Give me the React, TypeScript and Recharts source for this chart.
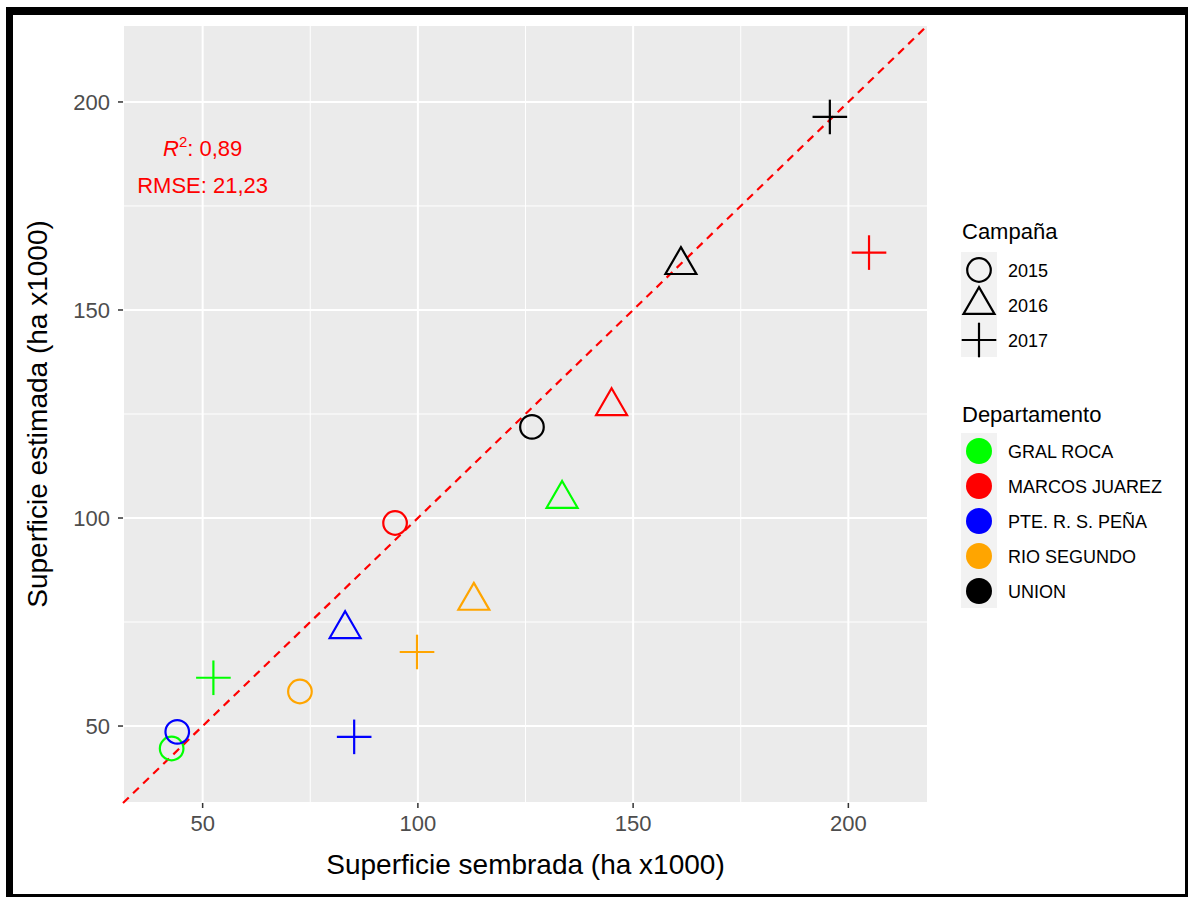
import React from 'react';
import { ScatterChart, Scatter, XAxis, YAxis, CartesianGrid, ReferenceLine, ReferenceDot } from 'recharts';

// campañas (shape) and departamentos (colour)
const campanas = ['2015', '2016', '2017'];
const departamentos = ['GRAL ROCA', 'MARCOS JUAREZ', 'PTE. R. S. PEÑA', 'RIO SEGUNDO', 'UNION'];
const colores = ['#00FF00', '#FF0000', '#0000FF', '#FFA500', '#000000'];

// superficie sembrada (ha x1000) per campaña 2015, 2016, 2017
const sembradaGralRoca = [42.8, 133.5, 52.5];
const sembradaMarcosJuarez = [94.7, 145.0, 204.8];
const sembradaPteSaenzPena = [44.1, 83.1, 85.2];
const sembradaRioSegundo = [72.6, 113.0, 99.8];
const sembradaUnion = [126.5, 161.1, 195.7];

// superficie estimada (ha x1000) per campaña 2015, 2016, 2017
const estimadaGralRoca = [44.6, 104.6, 61.6];
const estimadaMarcosJuarez = [98.8, 126.9, 163.8];
const estimadaPteSaenzPena = [48.6, 73.3, 47.4];
const estimadaRioSegundo = [58.3, 80.1, 67.8];
const estimadaUnion = [121.9, 160.8, 196.4];

const sembrada = [sembradaGralRoca, sembradaMarcosJuarez, sembradaPteSaenzPena, sembradaRioSegundo, sembradaUnion];
const estimada = [estimadaGralRoca, estimadaMarcosJuarez, estimadaPteSaenzPena, estimadaRioSegundo, estimadaUnion];

const majorTicks = [50, 100, 150, 200];
const minorTicks = [75, 125, 175];
const domain: [number, number] = [31.5, 218.5];

const FONT = '"Liberation Sans", Arial, Helvetica, sans-serif';

function Marker({ cx, cy, color, shape }: { cx: number; cy: number; color: string; shape: number }) {
  if (shape === 0) {
    return <circle cx={cx} cy={cy} r={11.8} fill="none" stroke={color} strokeWidth={2.2} />;
  }
  if (shape === 1) {
    const s = 11.5;
    const r = 1.555 * s, xc = 1.347 * s, yc = 0.778 * s;
    return (
      <polygon
        points={`${cx},${cy - r} ${cx + xc},${cy + yc} ${cx - xc},${cy + yc}`}
        fill="none" stroke={color} strokeWidth={2.2} strokeLinejoin="miter"
      />
    );
  }
  const a = 17.3;
  return (
    <g stroke={color} strokeWidth={2.2}>
      <line x1={cx - a} y1={cy} x2={cx + a} y2={cy} />
      <line x1={cx} y1={cy - a} x2={cx} y2={cy + a} />
    </g>
  );
}

const R2Label = (props: any) => {
  const vb = props.viewBox || {};
  const cx = vb.x + (vb.width || 0) / 2;
  const cy = vb.y + (vb.height || 0) / 2;
  return (
    <text x={cx} y={cy + 8} textAnchor="middle" fill="#FF0000" fontSize={22} fontFamily={FONT}>
      <tspan fontStyle="italic">R</tspan>
      <tspan fontSize={15} dy={-9}>2</tspan>
      <tspan dy={9}>: 0,89</tspan>
    </text>
  );
};

const RmseLabel = (props: any) => {
  const vb = props.viewBox || {};
  const cx = vb.x + (vb.width || 0) / 2;
  const cy = vb.y + (vb.height || 0) / 2;
  return (
    <text x={cx} y={cy + 8} textAnchor="middle" fill="#FF0000" fontSize={22} fontFamily={FONT}>
      RMSE: 21,23
    </text>
  );
};

const XTitle = (props: any) => {
  const vb = props.viewBox || {};
  return (
    <text x={vb.x + vb.width / 2} y={874} textAnchor="middle" fontSize={28} fill="#000" fontFamily={FONT}>
      Superficie sembrada (ha x1000)
    </text>
  );
};

const YTitle = (props: any) => {
  const vb = props.viewBox || {};
  const cy = vb.y + vb.height / 2;
  return (
    <text x={47} y={cy} transform={`rotate(-90, 47, ${cy})`} textAnchor="middle" fontSize={28} fill="#000" fontFamily={FONT}>
      Superficie estimada (ha x1000)
    </text>
  );
};

function LegendBox() {
  return (
    <svg width={248} height={420} style={{ position: 'absolute', left: 940, top: 200, fontFamily: FONT }}>
      <text x={22} y={39} fontSize={22} fill="#000">Campaña</text>
      <rect x={21} y={52} width={36} height={105} fill="#F2F2F2" />
      {campanas.map((c, i) => (
        <g key={c}>
          <Marker cx={39} cy={70 + i * 35} color="#000" shape={i} />
          <text x={68} y={70 + i * 35 + 6.5} fontSize={18} fill="#000">{c}</text>
        </g>
      ))}
      <text x={22} y={222} fontSize={22} fill="#000">Departamento</text>
      <rect x={21} y={233} width={36} height={175} fill="#F2F2F2" />
      {departamentos.map((d, i) => (
        <g key={d}>
          <circle cx={39} cy={251 + i * 35} r={13} fill={colores[i]} />
          <text x={68} y={251 + i * 35 + 6.5} fontSize={18} fill="#000">{d}</text>
        </g>
      ))}
    </svg>
  );
}

export default function App() {
  return (
    <div style={{ position: 'absolute', left: 0, top: 0, width: 1188, height: 897, background: '#fff', fontFamily: FONT }}>
      <ScatterChart width={1188} height={897} margin={{ top: 25, right: 260, bottom: 64, left: 63 }}>
        <CartesianGrid fill="#EBEBEB" stroke="#FFFFFF" strokeWidth={2} />
        {minorTicks.map(v => (
          <ReferenceLine key={`mx${v}`} x={v} stroke="#FFFFFF" strokeWidth={1} />
        ))}
        {minorTicks.map(v => (
          <ReferenceLine key={`my${v}`} y={v} stroke="#FFFFFF" strokeWidth={1} />
        ))}
        <XAxis
          type="number" dataKey="x" domain={domain} ticks={majorTicks} allowDataOverflow
          height={30} axisLine={false} tickSize={5} tickMargin={7}
          tickLine={{ stroke: '#333333', strokeWidth: 1.5 }}
          tick={{ fill: '#4D4D4D', fontSize: 22, fontFamily: FONT }}
          label={<XTitle />}
        />
        <YAxis
          type="number" dataKey="y" domain={domain} ticks={majorTicks} allowDataOverflow
          width={60} axisLine={false} tickSize={5} tickMargin={8}
          tickLine={{ stroke: '#333333', strokeWidth: 1.5 }}
          tick={{ fill: '#4D4D4D', fontSize: 22, fontFamily: FONT }}
          label={<YTitle />}
        />
        {departamentos.map((d, di) => (
          <Scatter
            key={d}
            name={d}
            data={campanas.map((c, ci) => ({ x: sembrada[di][ci], y: estimada[di][ci], campana: ci }))}
            isAnimationActive={false}
            shape={(p: any) => <Marker cx={p.cx} cy={p.cy} color={colores[di]} shape={p.payload.campana} />}
          />
        ))}
        <ReferenceLine
          segment={[{ x: domain[0], y: domain[0] }, { x: domain[1], y: domain[1] }]}
          stroke="#FF0000" strokeWidth={2.2} strokeDasharray="8 6" ifOverflow="visible"
        />
        <ReferenceDot x={50} y={189} r={0} fill="none" stroke="none" label={<R2Label />} />
        <ReferenceDot x={50} y={180} r={0} fill="none" stroke="none" label={<RmseLabel />} />
      </ScatterChart>
      <LegendBox />
      <div
        style={{
          position: 'absolute', left: 6, top: 7, width: 1182, height: 890, boxSizing: 'border-box',
          borderLeft: '7px solid #000', borderTop: '8px solid #000', borderRight: '3px solid #000',
          borderBottom: '3px solid #000', pointerEvents: 'none',
        }}
      />
    </div>
  );
}
